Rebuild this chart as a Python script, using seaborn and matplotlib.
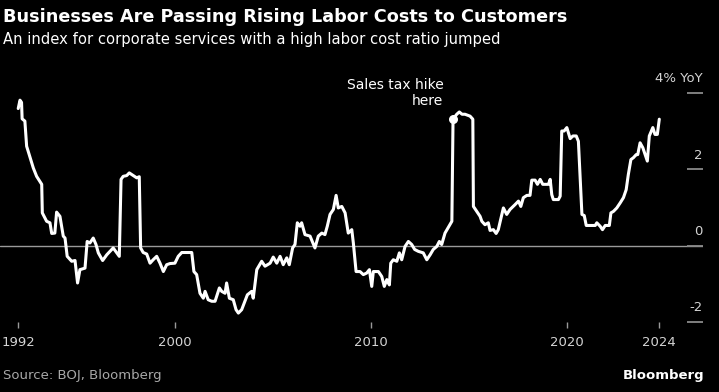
import matplotlib
matplotlib.use("Agg")
import matplotlib.pyplot as plt
import seaborn as sns
import pandas as pd

# -------------------------
# Data
# -------------------------
years = [
    1992.00, 1992.09, 1992.17, 1992.20, 1992.34, 1992.43, 1992.77, 1992.94, 1993.20, 1993.23,
    1993.45, 1993.62, 1993.71, 1993.87, 1993.96, 1994.13, 1994.30, 1994.39, 1994.50, 1994.73,
    1994.90, 1995.03, 1995.15, 1995.41, 1995.52, 1995.66, 1995.83, 1995.97, 1996.09, 1996.31,
    1996.52, 1996.85, 1997.03, 1997.16, 1997.25, 1997.36, 1997.54, 1997.67, 1997.87, 1998.05,
    1998.18, 1998.25, 1998.38, 1998.56, 1998.73, 1998.89, 1999.07, 1999.24, 1999.41, 1999.58,
    1999.75, 2000.00, 2000.17, 2000.35, 2000.86, 2000.97, 2001.11, 2001.28, 2001.45, 2001.54,
    2001.70, 2001.88, 2002.05, 2002.27, 2002.39, 2002.56, 2002.64, 2002.78, 2002.98, 2003.12,
    2003.24, 2003.41, 2003.70, 2003.92, 2004.00, 2004.18, 2004.43, 2004.60, 2004.86, 2005.02,
    2005.20, 2005.37, 2005.53, 2005.71, 2005.84, 2006.01, 2006.13, 2006.25, 2006.39, 2006.47,
    2006.64, 2006.90, 2007.15, 2007.32, 2007.50, 2007.66, 2007.78, 2007.92, 2008.09, 2008.23,
    2008.34, 2008.52, 2008.69, 2008.85, 2009.03, 2009.11, 2009.25, 2009.45, 2009.62, 2009.79,
    2009.93, 2010.05, 2010.13, 2010.39, 2010.56, 2010.69, 2010.82, 2010.95, 2011.02, 2011.15,
    2011.33, 2011.46, 2011.58, 2011.75, 2011.92, 2012.09, 2012.24, 2012.43, 2012.68, 2012.86,
    2013.03, 2013.19, 2013.37, 2013.50, 2013.62, 2013.79, 2014.14, 2014.20, 2014.39, 2014.52,
    2014.66, 2014.81, 2015.07, 2015.21, 2015.24, 2015.41, 2015.58, 2015.67, 2015.83, 2016.00,
    2016.09, 2016.26, 2016.40, 2016.51, 2016.77, 2016.94, 2017.11, 2017.37, 2017.54, 2017.66,
    2017.79, 2017.97, 2018.13, 2018.22, 2018.39, 2018.51, 2018.65, 2018.78, 2018.95, 2019.07,
    2019.16, 2019.24, 2019.32, 2019.58, 2019.67, 2019.75, 2019.87, 2020.01, 2020.18, 2020.32,
    2020.49, 2020.60, 2020.78, 2020.90, 2021.00, 2021.20, 2021.46, 2021.54, 2021.71, 2021.83,
    2021.97, 2022.18, 2022.26, 2022.39, 2022.56, 2022.73, 2022.90, 2023.04, 2023.15, 2023.28,
    2023.41, 2023.55, 2023.63, 2023.75, 2023.89, 2024.01, 2024.12, 2024.22, 2024.40, 2024.51,
    2024.63, 2024.73,
]
yoy = [
    3.60, 3.82, 3.76, 3.33, 3.27, 2.61, 2.04, 1.82, 1.61, 0.86,
    0.64, 0.60, 0.32, 0.33, 0.88, 0.77, 0.25, 0.20, -0.28, -0.41,
    -0.39, -0.98, -0.63, -0.59, 0.11, 0.07, 0.20, 0.03, -0.19, -0.39,
    -0.24, -0.06, -0.19, -0.28, 1.74, 1.82, 1.84, 1.91, 1.84, 1.78,
    1.81, -0.06, -0.18, -0.22, -0.46, -0.37, -0.28, -0.46, -0.68, -0.50,
    -0.47, -0.46, -0.28, -0.18, -0.18, -0.68, -0.76, -1.25, -1.38, -1.20,
    -1.42, -1.46, -1.46, -1.11, -1.20, -1.25, -0.98, -1.38, -1.42, -1.68,
    -1.77, -1.68, -1.29, -1.20, -1.38, -0.63, -0.41, -0.54, -0.46, -0.30,
    -0.46, -0.28, -0.50, -0.32, -0.50, -0.06, 0.03, 0.60, 0.51, 0.60,
    0.29, 0.25, -0.06, 0.25, 0.33, 0.29, 0.51, 0.82, 0.95, 1.32,
    0.99, 1.03, 0.86, 0.33, 0.42, 0.07, -0.68, -0.68, -0.76, -0.72,
    -0.63, -1.07, -0.68, -0.68, -0.81, -1.07, -0.89, -1.03, -0.46, -0.37,
    -0.41, -0.19, -0.37, -0.02, 0.11, 0.03, -0.10, -0.15, -0.19, -0.37,
    -0.24, -0.10, -0.02, 0.11, 0.03, 0.33, 0.64, 3.32, 3.45, 3.51,
    3.45, 3.45, 3.40, 3.32, 1.03, 0.90, 0.77, 0.64, 0.55, 0.60,
    0.40, 0.42, 0.32, 0.42, 0.99, 0.82, 0.95, 1.08, 1.17, 1.03,
    1.26, 1.32, 1.32, 1.72, 1.72, 1.61, 1.74, 1.61, 1.61, 1.61,
    1.74, 1.34, 1.21, 1.21, 1.30, 3.01, 3.01, 3.10, 2.81, 2.88,
    2.88, 2.74, 0.82, 0.79, 0.53, 0.53, 0.53, 0.60, 0.51, 0.42,
    0.53, 0.53, 0.86, 0.90, 0.99, 1.12, 1.26, 1.47, 1.87, 2.26,
    2.31, 2.39, 2.39, 2.70, 2.57, 2.39, 2.22, 2.88, 3.10, 2.92,
    2.92, 3.32,
]

xtick_pos = [1992, 2000, 2010, 2020, 2024.73]
xtick_labels = ["1992", "2000", "2010", "2020", "2024"]
ytick_pos = [4, 2, 0, -2]
ytick_labels = ["4% YoY", "2", "0", "-2"]

tax_hike_year = 2014.20
tax_hike_value = 3.32

df = pd.DataFrame({"year": years, "yoy": yoy})

# -------------------------
# Style
# -------------------------
sns.set_theme(style="dark", rc={
    "axes.facecolor": "black",
    "figure.facecolor": "black",
    "axes.grid": False,
})
plt.rcParams["font.family"] = ["DejaVu Sans"]

fig = plt.figure(figsize=(7.19, 3.92), dpi=100)
ax = fig.add_axes([0.0, 0.179, 0.9777, 0.583])

x_min, x_max = 1991.07, 2026.96
ax.set_xlim(x_min, x_max)
ax.set_ylim(-2, 4)

# zero line and right-hand tick lines
ax.axhline(0, color="#9a9a9a", lw=1.0, zorder=1)
ax.hlines(ytick_pos, 2026.13, x_max, color="#8a8a8a", lw=1.3, clip_on=False, zorder=1)

sns.lineplot(data=df, x="year", y="yoy", ax=ax, color="white", lw=2.2, zorder=3)

# annotation dot + text
ax.scatter([tax_hike_year], [tax_hike_value], s=30, color="white", zorder=4)
ax.annotate("Sales tax hike\nhere", xy=(tax_hike_year, tax_hike_value),
            xytext=(-7, 8), textcoords="offset points", ha="right", va="bottom",
            color="white", fontsize=10, linespacing=1.15)

# y labels sit above the tick lines on the right
for pos, lab in zip(ytick_pos, ytick_labels):
    ax.annotate(lab, xy=(x_max, pos), xytext=(0, 10.4), textcoords="offset points",
                ha="right", va="center", color="#d4d4d4", fontsize=9.5,
                annotation_clip=False)

ax.set_yticks([])
ax.set_xticks(xtick_pos)
ax.set_xticklabels(xtick_labels)
ax.tick_params(axis="x", colors="#9a9a9a", length=4, width=1, direction="out",
               pad=6, labelsize=9.5, labelcolor="#d4d4d4", bottom=True)
ax.set_xlabel("")
ax.set_ylabel("")
for s in ax.spines.values():
    s.set_visible(False)

# titles and footer
fig.text(0.004, 0.957, "Businesses Are Passing Rising Labor Costs to Customers",
         color="white", fontsize=12.7, fontweight="bold", va="center", ha="left")
fig.text(0.004, 0.898, "An index for corporate services with a high labor cost ratio jumped",
         color="white", fontsize=10.6, va="center", ha="left")
fig.text(0.004, 0.041, "Source: BOJ, Bloomberg", color="#a8a8a8", fontsize=9.5,
         va="center", ha="left")
fig.text(0.979, 0.043, "Bloomberg", color="white", fontsize=9.5, fontweight="bold",
         va="center", ha="right")

fig.savefig("out.png", dpi=100, facecolor="black")
